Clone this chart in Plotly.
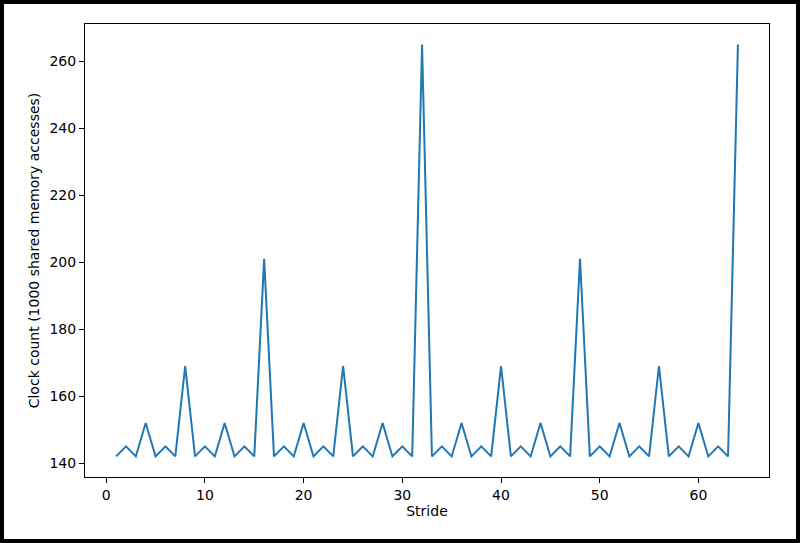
import plotly.graph_objects as go

# stride 1..64 and clock counts
stride = list(range(1, 65))
clock = [
    142, 145, 142, 152, 142, 145, 142, 169,
    142, 145, 142, 152, 142, 145, 142, 201,
    142, 145, 142, 152, 142, 145, 142, 169,
    142, 145, 142, 152, 142, 145, 142, 265,
    142, 145, 142, 152, 142, 145, 142, 169,
    142, 145, 142, 152, 142, 145, 142, 201,
    142, 145, 142, 152, 142, 145, 142, 169,
    142, 145, 142, 152, 142, 145, 142, 265,
]
x_ticks = [0, 10, 20, 30, 40, 50, 60]
y_ticks = [140, 160, 180, 200, 220, 240, 260]

W, H = 800, 543
L, R, T, B = 85, 31, 24, 66
pw, ph = W - L - R, H - T - B

fig = go.Figure()
fig.add_trace(go.Scatter(x=stride, y=clock, mode="lines",
                         line=dict(color="#1f77b4", width=2)))

axis_style = dict(showgrid=False, zeroline=False, showline=True, mirror=True,
                  linecolor="black", linewidth=1, ticks="outside", ticklen=5,
                  tickwidth=1, tickcolor="black",
                  tickfont=dict(family="DejaVu Sans", size=14, color="black"))

fig.update_xaxes(range=[-2.15, 67.15], tickvals=x_ticks,
                 title=dict(text="Stride", font=dict(family="DejaVu Sans", size=14, color="black"),
                            standoff=4),
                 **axis_style)
fig.update_yaxes(range=[135.85, 271.15], tickvals=y_ticks,
                 title=dict(text="Clock count (1000 shared memory accesses)",
                            font=dict(family="DejaVu Sans", size=14, color="black"),
                            standoff=6),
                 **axis_style)

# black frame round the whole picture
fig.add_shape(type="rect", xref="paper", yref="paper",
              x0=(2 - L) / pw, x1=(798 - L) / pw,
              y0=(T + ph - 541) / ph, y1=(T + ph - 2) / ph,
              line=dict(color="black", width=4), layer="above")

fig.update_layout(width=W, height=H, showlegend=False,
                  margin=dict(l=L, r=R, t=T, b=B),
                  plot_bgcolor="white", paper_bgcolor="white")

# page has a default body margin, drop it so the figure sits at 0,0
fig.write_html("out.html", config={"displayModeBar": False},
               post_script="document.body.style.margin='0';")
